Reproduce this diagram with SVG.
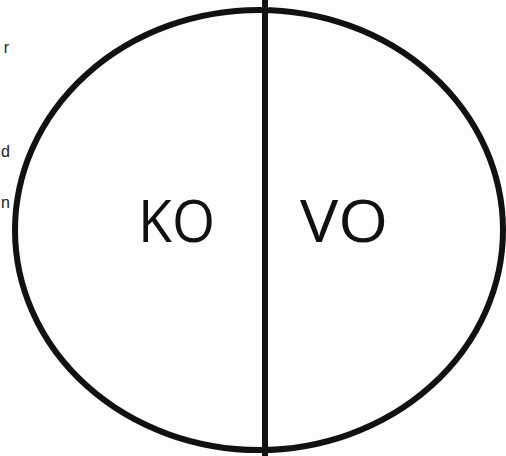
<svg xmlns="http://www.w3.org/2000/svg" width="506" height="456" viewBox="0 0 506 456">
<style>
.frag{font-family:"Liberation Sans",Arial,sans-serif;font-size:16px;fill:#222}
.big{font-family:"Open Sans","Liberation Sans",Arial,sans-serif;font-size:58px;fill:#111}
</style>
<rect width="506" height="456" fill="#fdfdfd"/>
<g id="fragments">
<text class="frag" x="9" y="53" text-anchor="end">r</text>
<text class="frag" x="10" y="157" text-anchor="end">d</text>
<text class="frag" x="10" y="208" text-anchor="end">n</text>
</g>
<g id="oval">
<ellipse cx="259" cy="230" rx="244" ry="220" fill="none" stroke="#111" stroke-width="6"/>
</g>
<g id="connectors">
<line x1="265" y1="0" x2="265" y2="456" stroke="#111" stroke-width="6"/>
</g>
<g id="ko"><text class="big" x="138" y="242" textLength="77" lengthAdjust="spacingAndGlyphs">KO</text></g>
<g id="vo"><text class="big" x="300" y="242" textLength="88" lengthAdjust="spacingAndGlyphs">VO</text></g>
</svg>
